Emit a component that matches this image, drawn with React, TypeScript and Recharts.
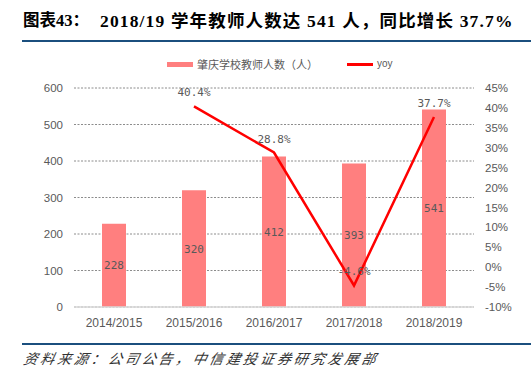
import React from "react";
import {
  ComposedChart,
  Bar,
  Line,
  XAxis,
  YAxis,
  CartesianGrid,
  LabelList,
} from "recharts";

const categories = ["2014/2015", "2015/2016", "2016/2017", "2017/2018", "2018/2019"];
const teachers = [228, 320, 412, 393, 541];
const yoy: (number | null)[] = [null, 40.4, 28.8, -4.6, 37.7];
const leftTicks = [0, 100, 200, 300, 400, 500, 600];
const rightTicks = [-10, -5, 0, 5, 10, 15, 20, 25, 30, 35, 40, 45];

const barName = "肇庆学校教师人数（人）";
const lineName = "yoy";
const title1 = "图表43：";
const title2 = "2018/19 学年教师人数达 541 人，同比增长 37.7%";
const source = "资料来源：公司公告，中信建投证券研究发展部";

const data = categories.map((c, i) => ({ name: c, teachers: teachers[i], yoy: yoy[i] }));

const axisFont = "'Liberation Sans', Arial, sans-serif";
const monoFont = "'DejaVu Sans Mono', 'Liberation Mono', monospace";
const gray = "#595959";

export default function App() {
  return (
    <div style={{ position: "absolute", left: 0, top: 0, width: 531, height: 377, background: "#fff", overflow: "hidden" }}>
      <div
        style={{
          position: "absolute",
          left: 23,
          top: 11,
          fontFamily: "'Liberation Serif', 'Noto Sans CJK SC', serif",
          fontWeight: "bold",
          lineHeight: "20px",
          color: "#000",
          whiteSpace: "pre",
        }}
      >
        <span style={{ fontSize: 16.5, letterSpacing: 0 }}>{title1}</span>
        <span style={{ position: "absolute", left: 77, top: 0, fontSize: 17.5, letterSpacing: 1.15 }}>{title2}</span>
      </div>
      <div style={{ position: "absolute", left: 22, top: 40, width: 509, height: 2, background: "#1B4F7E" }} />

      <div
        style={{
          position: "absolute",
          left: 0,
          top: 55,
          width: 531,
          height: 18,
          fontFamily: "'Noto Sans CJK SC', sans-serif",
          fontSize: 11,
          color: gray,
        }}
      >
        <div style={{ position: "absolute", left: 167, top: 7, width: 26, height: 5, background: "#FF7F7F" }} />
        <div style={{ position: "absolute", left: 197, top: 0, lineHeight: "18px", whiteSpace: "nowrap" }}>{barName}</div>
        <div style={{ position: "absolute", left: 347, top: 8, width: 26, height: 2.5, background: "#FF0000" }} />
        <div style={{ position: "absolute", left: 377, top: 0, lineHeight: "18px", fontFamily: axisFont, fontSize: 10 }}>{lineName}</div>
      </div>

      <div style={{ position: "absolute", left: 0, top: 0 }}>
        <ComposedChart
          width={531}
          height={377}
          data={data}
          margin={{ top: 88, right: 7, bottom: 40, left: 34 }}
        >
          <CartesianGrid
            yAxisId="left"
            vertical={false}
            stroke="#8C8C8C"
            strokeDasharray="2 1.5"
          />
          <XAxis
            dataKey="name"
            height={30}
            tickLine={false}
            axisLine={{ stroke: "#D9D9D9", strokeWidth: 1.5 }}
            tick={{ fill: gray, fontSize: 12, fontFamily: axisFont }}
            tickMargin={5}
            interval={0}
          />
          <YAxis
            yAxisId="left"
            orientation="left"
            width={40}
            domain={[0, 600]}
            ticks={leftTicks}
            axisLine={false}
            tickLine={false}
            tickMargin={5}
            tick={{ fill: gray, fontSize: 11.5, fontFamily: axisFont }}
          />
          <YAxis
            yAxisId="right"
            orientation="right"
            width={50}
            domain={[-10, 45]}
            ticks={rightTicks}
            axisLine={false}
            tickLine={false}
            tickMargin={5}
            tick={{ fill: gray, fontSize: 11.5, fontFamily: axisFont }}
            tickFormatter={(v: number) => `${v}%`}
          />
          <Bar yAxisId="left" dataKey="teachers" fill="#FF7F7F" barSize={24} isAnimationActive={false}>
            <LabelList
              dataKey="teachers"
              position="center"
              fill={gray}
              fontSize={11}
              fontFamily={monoFont}
            />
          </Bar>
          <Line
            yAxisId="right"
            dataKey="yoy"
            stroke="#FF0000"
            strokeWidth={2.5}
            dot={false}
            activeDot={false}
            connectNulls={false}
            isAnimationActive={false}
          >
            <LabelList
              dataKey="yoy"
              position="top"
              offset={10}
              fill={gray}
              fontSize={11}
              fontFamily={monoFont}
              formatter={(v: any) => (v == null ? "" : `${v}%`)}
            />
          </Line>
        </ComposedChart>
      </div>

      <div style={{ position: "absolute", left: 22, top: 343, width: 509, height: 1.5, background: "#1B4F7E" }} />
      <div
        style={{
          position: "absolute",
          left: 22,
          top: 349,
          fontFamily: "'Noto Sans CJK SC', sans-serif",
          fontStyle: "italic",
          fontSize: 14,
          letterSpacing: 2.9,
          lineHeight: "18px",
          color: "#333",
          whiteSpace: "nowrap",
          transform: "skewX(-12deg)",
          transformOrigin: "left bottom",
        }}
      >
        {source}
      </div>
    </div>
  );
}
